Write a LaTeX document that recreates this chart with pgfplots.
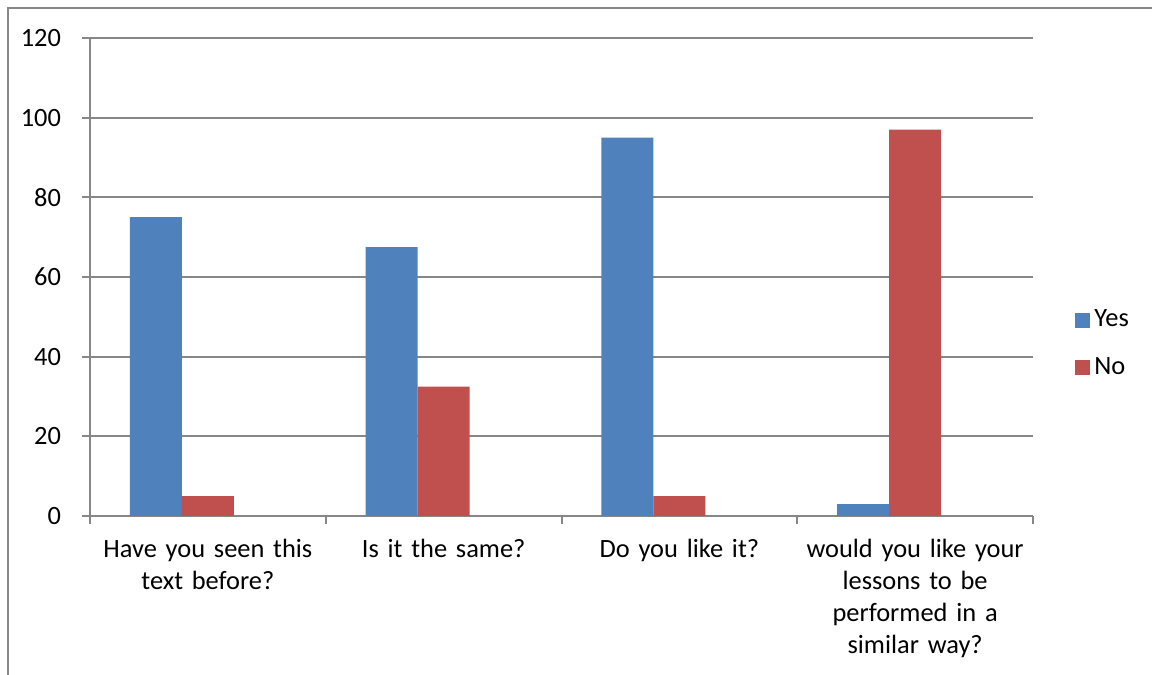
\documentclass[border=0pt]{standalone}
\usepackage{pgfplots}
\pgfplotsset{compat=1.18}
\usepackage{fontspec}
\setmainfont{Carlito}
\definecolor{serBlue}{HTML}{4F81BD}
\definecolor{serRed}{HTML}{C0504D}
\definecolor{gridGray}{HTML}{878787}
\begin{document}
\fontsize{13bp}{15.8bp}\selectfont
\begin{tikzpicture}
\useasboundingbox (0,0) rectangle (576bp,337.5bp);
% chart frame (left and top edges)
\draw[gridGray, line width=1bp] (4bp,0) -- (4bp,333.5bp) -- (576bp,333.5bp);
\begin{axis}[
  at={(45bp,79.5bp)}, anchor=south west,
  scale only axis, width=471.5bp, height=239bp,
  xmin=-0.5, xmax=3.5, ymin=0, ymax=120,
  ytick={0,20,...,120},
  xtick={0,1,2,3},
  xticklabels={{Have you seen this\\text before?},{Is it the same?},{Do you like it?},{would you like your\\lessons to be\\performed in a\\similar way?}},
  xticklabel style={align=center, text width=120bp, font=\fontsize{13.2bp}{16bp}\selectfont, yshift=-3bp},
  yticklabel style={font=\fontsize{13.2bp}{16bp}\selectfont, xshift=-6bp},
  /pgf/number format/assume math mode=true,
  minor xtick={-0.5,0.5,1.5,2.5,3.5},
  major x tick style={draw=none},
  minor tick length=4bp, major tick length=4bp,
  tick align=outside,
  tick style={gridGray, line width=1bp},
  axis x line*=bottom, axis y line*=left,
  axis line style={gridGray, line width=1bp, -},
  ymajorgrids=true, xminorgrids=false,
  grid style={gridGray, line width=1bp},
  legend style={draw=none, at={(1,0.5)}, anchor=west, xshift=21bp, yshift=-33.5bp,
    font=\fontsize{13.2bp}{16bp}\selectfont, row sep=9.5bp, inner sep=0pt},
  legend cell align=left,
  legend image code/.code={\fill[#1] (0bp,-3.75bp) rectangle (7.5bp,3.75bp);},
]
\addplot[ybar, bar width=26bp, bar shift=-26bp, fill=serBlue, draw=none]
  coordinates {(0,75) (1,67.5) (2,95) (3,3)};
\addlegendentry{Yes}
\addplot[ybar, bar width=26bp, bar shift=0bp, fill=serRed, draw=none]
  coordinates {(0,5) (1,32.5) (2,5) (3,97)};
\addlegendentry{No}
\end{axis}
\end{tikzpicture}
\end{document}
